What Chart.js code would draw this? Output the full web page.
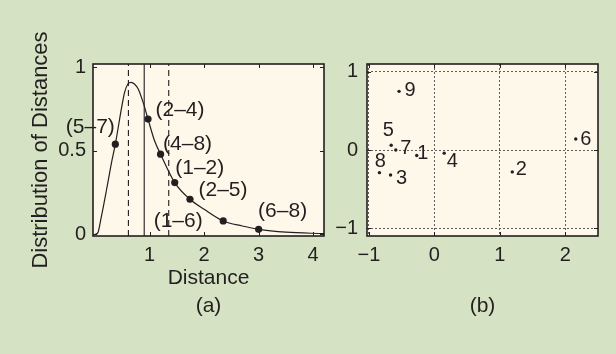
<!DOCTYPE html>
<html><head><meta charset="utf-8">
<script src="https://cdn.jsdelivr.net/npm/chart.js@4/dist/chart.umd.min.js"></script>
<style>
html,body{margin:0;padding:0;background:#d5e2c3;width:616px;height:354px;overflow:hidden}
canvas{position:absolute;left:0;top:0}
</style></head>
<body>
<canvas id="c1" width="616" height="354"></canvas>
<canvas id="c2" width="616" height="354"></canvas>
<script>
// ---- Panel (a): distribution of distances ----
const curveX = [0, 0.05, 0.11, 0.21, 0.30, 0.37, 0.48, 0.54, 0.60, 0.66, 0.72, 0.79, 0.88, 0.97, 1.09, 1.20, 1.46, 1.74, 2.0, 2.35, 2.7, 3.0, 3.5, 4.2];
const curveY = [0, 0.01, 0.10, 0.27, 0.43, 0.54, 0.75, 0.85, 0.90, 0.91, 0.90, 0.87, 0.79, 0.69, 0.56, 0.48, 0.31, 0.21, 0.15, 0.08, 0.05, 0.03, 0.013, 0.004];
const pairLabels = ['(5–7)', '(2–4)', '(4–8)', '(1–2)', '(2–5)', '(1–6)', '(6–8)'];
const pairX = [0.37, 0.97, 1.20, 1.46, 1.74, 2.35, 3.0];
const pairY = [0.54, 0.69, 0.48, 0.31, 0.21, 0.08, 0.03];
const dashedLinesX = [0.61, 1.35];
const solidLineX = [0.90];
const leftXTicks = [1, 2, 3, 4];
const leftXTickLabels = ['1', '2', '3', '4'];
const leftYTicks = [0, 0.5, 1];
const leftYTickLabels = ['0', '0.5', '1'];

// ---- Panel (b): embedding ----
const nodeLabels = ['9', '5', '7', '1', '8', '3', '4', '2', '6'];
const nodeX = [-0.54, -0.66, -0.59, -0.27, -0.84, -0.67, 0.15, 1.19, 2.16];
const nodeY = [0.75, 0.06, 0.0, -0.07, -0.29, -0.32, -0.04, -0.28, 0.14];
const rightXTicks = [-1, 0, 1, 2];
const rightXTickLabels = ['−1', '0', '1', '2'];
const rightYTicks = [-1, 0, 1];
const rightYTickLabels = ['−1', '0', '1'];

Chart.defaults.font.family = "'Liberation Sans', Arial, Helvetica, sans-serif";
Chart.defaults.color = '#231f20';

const INK = '#231f20';
const CREAM = '#fdf8e9';

// label offsets (px) relative to the data point
const pairOffsets = [[-25,-17],[32,-9],[27,-10],[25,-14],[33,-9],[-45,0],[24,-18]];
const nodeOffsets = [[11,-1],[-3,-15],[10,-2],[6,-2],[1,-11],[11,3],[8,8],[9,-2],[10,0]];

function framePlugin(labelDatasetIndex, labels, offsets, fontSize) {
  return {
    id: 'frame',
    beforeDraw(chart) {
      const a = chart.chartArea, ctx = chart.ctx;
      ctx.save();
      ctx.fillStyle = CREAM;
      ctx.fillRect(a.left, a.top, a.right - a.left, a.bottom - a.top);
      ctx.restore();
    },
    afterDraw(chart) {
      const a = chart.chartArea, ctx = chart.ctx;
      ctx.save();
      ctx.strokeStyle = INK;
      ctx.lineWidth = 1;
      const xs = chart.scales.x, ys = chart.scales.y;
      const tl = 4;
      ctx.beginPath();
      xs.ticks.forEach(t => {
        const px = Math.round(xs.getPixelForValue(t.value)) + 0.5;
        ctx.moveTo(px, a.bottom); ctx.lineTo(px, a.bottom - tl);
        ctx.moveTo(px, a.top); ctx.lineTo(px, a.top + tl);
      });
      ys.ticks.forEach(t => {
        const py = Math.round(ys.getPixelForValue(t.value)) + 0.5;
        ctx.moveTo(a.left, py); ctx.lineTo(a.left + tl, py);
        ctx.moveTo(a.right, py); ctx.lineTo(a.right - tl, py);
      });
      ctx.stroke();
      ctx.lineWidth = 1.6;
      ctx.strokeRect(a.left, a.top, a.right - a.left, a.bottom - a.top);
      // point labels
      const meta = chart.getDatasetMeta(labelDatasetIndex);
      ctx.fillStyle = INK;
      ctx.font = fontSize + "px 'Liberation Sans', Arial, sans-serif";
      ctx.textAlign = 'center';
      ctx.textBaseline = 'middle';
      meta.data.forEach((el, i) => {
        ctx.fillText(labels[i], el.x + offsets[i][0], el.y + offsets[i][1]);
      });
      ctx.restore();
    }
  };
}

const vLine = (x, y0, y1) => [{x: x, y: y0}, {x: x, y: y1}];

// ---------- Chart (a) ----------
new Chart(document.getElementById('c1'), {
  type: 'scatter',
  data: {
    datasets: [
      {
        label: 'density',
        data: curveX.map((x, i) => ({x, y: curveY[i]})),
        showLine: true, pointRadius: 0, borderColor: INK, borderWidth: 1.2,
        cubicInterpolationMode: 'monotone', fill: false
      },
      ...dashedLinesX.map(x => ({
        data: vLine(x, -0.01, 1.02), showLine: true, pointRadius: 0,
        borderColor: INK, borderWidth: 1.1, borderDash: [6, 4]
      })),
      ...solidLineX.map(x => ({
        data: vLine(x, -0.01, 1.02), showLine: true, pointRadius: 0,
        borderColor: INK, borderWidth: 1.1
      })),
      {
        label: 'pairs',
        data: pairX.map((x, i) => ({x, y: pairY[i]})),
        pointRadius: 3.6, backgroundColor: INK, borderColor: INK, borderWidth: 0
      }
    ]
  },
  options: {
    responsive: false, animation: false, devicePixelRatio: 1,
    layout: {padding: {left: 0, right: 292, top: 64, bottom: 0}},
    plugins: {legend: {display: false}, tooltip: {enabled: false}},
    scales: {
      x: {
        type: 'linear', min: -0.04, max: 4.2,
        afterBuildTicks: s => { s.ticks = leftXTicks.map(v => ({value: v})); },
        afterFit: s => { s.height = 118; },
        ticks: {callback: (v, i) => leftXTickLabels[i], font: {size: 20}, padding: 7, maxRotation: 0, color: INK},
        grid: {display: false, drawTicks: false},
        border: {display: false},
        title: {display: true, text: ['Distance', '(a)'], font: {size: 21, lineHeight: 1.333}, padding: {top: 0, bottom: 34}, color: INK}
      },
      y: {
        type: 'linear', min: -0.01, max: 1.02,
        afterBuildTicks: s => { s.ticks = leftYTicks.map(v => ({value: v})); },
        afterFit: s => { s.width = 93; },
        ticks: {callback: (v, i) => leftYTickLabels[i], font: {size: 20}, padding: 7, color: INK},
        grid: {display: false, drawTicks: false},
        border: {display: false},
        title: {display: true, text: 'Distribution of Distances', font: {size: 22, lineHeight: 1.2}, padding: {top: 28, bottom: 0}, color: INK}
      }
    }
  },
  plugins: [framePlugin(4, pairLabels, pairOffsets, 21)]
});

// ---------- Chart (b) ----------
new Chart(document.getElementById('c2'), {
  type: 'scatter',
  data: {
    datasets: [{
      label: 'nodes',
      data: nodeX.map((x, i) => ({x, y: nodeY[i]})),
      pointRadius: 1.7, backgroundColor: INK, borderColor: INK, borderWidth: 0
    }]
  },
  options: {
    responsive: false, animation: false, devicePixelRatio: 1,
    layout: {padding: {left: 0, right: 18, top: 64, bottom: 0}},
    plugins: {legend: {display: false}, tooltip: {enabled: false}},
    scales: {
      x: {
        type: 'linear', min: -1.03, max: 2.5,
        afterBuildTicks: s => { s.ticks = rightXTicks.map(v => ({value: v})); },
        afterFit: s => { s.height = 118; },
        ticks: {callback: (v, i) => rightXTickLabels[i], font: {size: 20}, padding: 7, maxRotation: 0, color: INK},
        grid: {display: true, drawTicks: false, color: '#5e5e5e', lineWidth: 1},
        border: {display: false, dash: [2, 2]},
        title: {display: true, text: '(b)', font: {size: 21, lineHeight: 1.333}, padding: {top: 0, bottom: 34}, color: INK}
      },
      y: {
        type: 'linear', min: -1.1, max: 1.1,
        afterBuildTicks: s => { s.ticks = rightYTicks.map(v => ({value: v})); },
        afterFit: s => { s.width = 367; },
        ticks: {callback: (v, i) => rightYTickLabels[i], font: {size: 20}, padding: 9, color: INK},
        grid: {display: true, drawTicks: false, color: '#5e5e5e', lineWidth: 1},
        border: {display: false, dash: [2, 2]}
      }
    }
  },
  plugins: [framePlugin(0, nodeLabels, nodeOffsets, 20)]
});
</script>
</body></html>
